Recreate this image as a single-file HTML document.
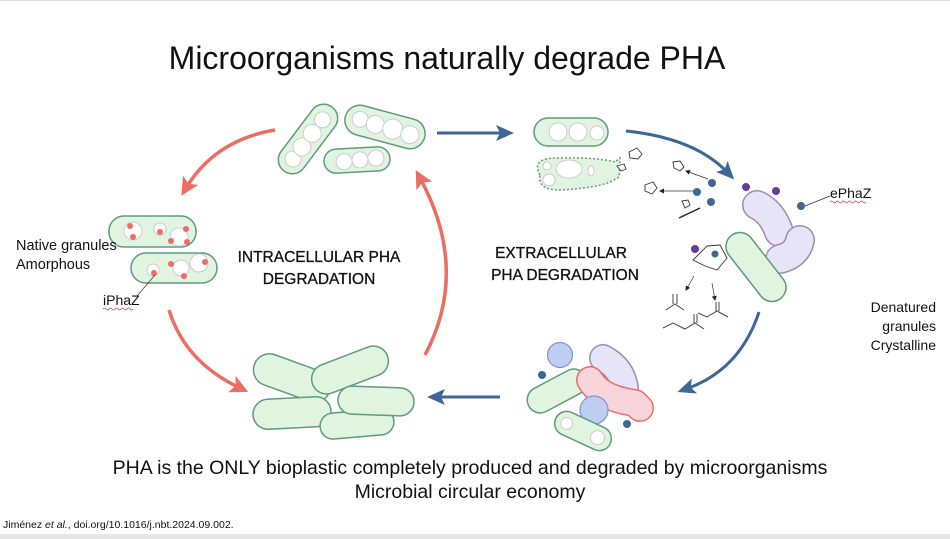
<!DOCTYPE html>
<html><head><meta charset="utf-8"><style>
html,body{margin:0;padding:0;background:#fff}
svg{display:block}
text{font-family:"Liberation Sans",sans-serif;fill:#111}
</style></head><body>
<svg width="950" height="539" viewBox="0 0 950 539" xmlns="http://www.w3.org/2000/svg">
<defs>
<marker id="ar" markerWidth="18" markerHeight="18" refX="9" refY="9" orient="auto" markerUnits="userSpaceOnUse" viewBox="0 0 18 18"><path d="M0,0 L18,9 L0,18 L4,9 Z" fill="#ec6d64"/></marker>
<marker id="ab" markerWidth="18" markerHeight="18" refX="9" refY="9" orient="auto" markerUnits="userSpaceOnUse" viewBox="0 0 18 18"><path d="M0,1 L18,9 L0,17 L4,9 Z" fill="#3e6696"/></marker>
<marker id="sm" markerWidth="5" markerHeight="5" refX="4" refY="2.5" orient="auto" markerUnits="userSpaceOnUse"><path d="M0,0 L5,2.5 L0,5 Z" fill="#222"/></marker>
</defs>
<rect x="0" y="0" width="950" height="1" fill="#ddd"/>
<rect x="0" y="534" width="950" height="5" fill="#e6e6e6"/>

<text x="447" y="69" font-size="32" text-anchor="middle">Microorganisms naturally degrade PHA</text>

<g fill="none" stroke-width="3.5">
<path d="M275,130 Q215,140 186,188" stroke="#ec6d64" marker-end="url(#ar)"/>
<path d="M169,310 Q185,362 240,388" stroke="#ec6d64" marker-end="url(#ar)"/>
<path d="M425,355 Q470,270 420,178" stroke="#ec6d64" marker-end="url(#ar)"/>
<path d="M437,133 L505,133" stroke="#3e6696" stroke-width="3" marker-end="url(#ab)"/>
<path d="M626,131 Q695,138 728,173" stroke="#3e6696" stroke-width="3" marker-end="url(#ab)"/>
<path d="M759,312 Q740,370 686,389" stroke="#3e6696" stroke-width="3" marker-end="url(#ab)"/>
<path d="M500,397 L436,397" stroke="#3e6696" stroke-width="3" marker-end="url(#ab)"/>
</g>

<g stroke="#5f9b7c" stroke-width="1.5" fill="#e0f4df">
<g transform="translate(308,139) rotate(-53)"><rect x="-40" y="-14" width="80" height="28" rx="14"/>
<g fill="#fff" stroke="#ccc" stroke-width="1"><circle cx="-25" cy="0" r="8"/><circle cx="-10" cy="0" r="9"/><circle cx="7" cy="0" r="9"/><circle cx="24" cy="0" r="8"/></g></g>
<g transform="translate(385,127) rotate(15)"><rect x="-41" y="-15" width="82" height="30" rx="15"/>
<g fill="#fff" stroke="#ccc" stroke-width="1"><circle cx="-26" cy="-1" r="8"/><circle cx="-10" cy="0" r="9"/><circle cx="8" cy="0" r="10"/><circle cx="26" cy="1" r="9"/></g></g>
<g transform="translate(357,160) rotate(-3)"><rect x="-33" y="-12" width="66" height="24" rx="12"/>
<g fill="#fff" stroke="#ccc" stroke-width="1"><circle cx="-13" cy="1" r="8"/><circle cx="3" cy="0" r="8"/><circle cx="19" cy="-1" r="8"/></g></g>

<rect x="109" y="216" width="87" height="31" rx="15"/>
<rect x="131" y="253" width="86" height="30" rx="15"/>
<g fill="#fff" stroke="#ccc" stroke-width="1">
<circle cx="133" cy="231" r="9"/><circle cx="160" cy="229" r="6"/><circle cx="179" cy="237" r="9"/>
<circle cx="153" cy="270" r="6"/><circle cx="181" cy="268" r="8"/><circle cx="199" cy="263" r="9"/></g>
<g fill="#ec6d64" stroke="none">
<circle cx="130" cy="226" r="3"/><circle cx="133" cy="237" r="3"/><circle cx="160" cy="232" r="3"/><circle cx="186" cy="229" r="3"/><circle cx="171" cy="241" r="3"/><circle cx="187" cy="242" r="3"/>
<circle cx="154" cy="273" r="3"/><circle cx="171" cy="264" r="3"/><circle cx="184" cy="276" r="3"/><circle cx="205" cy="262" r="3"/></g>
</g>
<line x1="155" y1="275" x2="137" y2="296" stroke="#444" stroke-width="0.8"/>
<text x="16" y="250" font-size="14.5">Native granules</text>
<text x="16" y="269" font-size="14.5">Amorphous</text>
<text x="103" y="305" font-size="14">iPhaZ</text>
<path d="M103,309 q1.5,-2 3,0 t3,0 t3,0 t3,0 t3,0 t3,0 t3,0 t3,0 t3,0 t3,0" stroke="#e33" stroke-width="0.7" fill="none"/>

<text x="319" y="262" font-size="15.5" text-anchor="middle" style="stroke:#111;stroke-width:0.3">INTRACELLULAR PHA</text>
<text x="319" y="284" font-size="15.5" text-anchor="middle" style="stroke:#111;stroke-width:0.3">DEGRADATION</text>
<text x="561" y="258" font-size="15.5" text-anchor="middle" style="stroke:#111;stroke-width:0.3">EXTRACELLULAR</text>
<text x="565" y="280" font-size="15.5" text-anchor="middle" style="stroke:#111;stroke-width:0.3">PHA DEGRADATION</text>

<g stroke="#5f9b7c" stroke-width="1.5" fill="#e0f4df">
<g transform="translate(292,378) rotate(20)"><rect x="-40" y="-16" width="80" height="32" rx="16"/></g>
<g transform="translate(350,370) rotate(-21)"><rect x="-40" y="-15" width="80" height="30" rx="15"/></g>
<g transform="translate(292,413) rotate(-3)"><rect x="-39" y="-15" width="78" height="30" rx="15"/></g>
<g transform="translate(357,424) rotate(-5)"><rect x="-37" y="-13" width="74" height="26" rx="13"/></g>
<g transform="translate(376,401) rotate(2)"><rect x="-38" y="-14" width="76" height="28" rx="14"/></g>
</g>

<g stroke="#5f9b7c" stroke-width="1.5" fill="#e0f4df">
<rect x="534" y="118" width="74" height="28" rx="14"/>
<g fill="#fff" stroke="#ccc" stroke-width="1"><circle cx="558" cy="132" r="9"/><circle cx="578" cy="132" r="9"/><circle cx="597" cy="133" r="7"/></g>
<path d="M540,175 Q530,157 560,158 Q595,157 615,162 L620,158 L619,177 L612,181 Q598,188 560,190 Q537,190 540,175 Z" stroke-dasharray="2,2"/>
<g fill="#fff" stroke="#ccc" stroke-width="1"><ellipse cx="569" cy="169" rx="13" ry="9"/><circle cx="549" cy="180" r="6"/><circle cx="547" cy="166" r="4"/><ellipse cx="591" cy="171" rx="3" ry="5"/></g>
</g>
<g fill="#fff" stroke="#333" stroke-width="0.9">
<polygon points="629,152 637,148 642,154 638,159 630,158"/>
<polygon points="617,166 624,164 626,169 621,171"/>
<polygon points="673,162 680,161 684,167 680,171 674,168"/>
<polygon points="645,185 653,182 657,188 652,194 645,191"/>
<polygon points="682,201 688,200 690,205 685,208"/>
</g>
<g stroke="#333" stroke-width="0.7"><line x1="708" y1="179" x2="686" y2="171" marker-end="url(#sm)"/><line x1="694" y1="191" x2="660" y2="191" marker-end="url(#sm)"/></g>
<line x1="679" y1="218" x2="700" y2="208" stroke="#222" stroke-width="1.5"/>
<g fill="#3e6696"><circle cx="712" cy="183" r="4"/><circle cx="697" cy="192" r="4"/><circle cx="711" cy="202" r="4"/><circle cx="801" cy="206" r="4"/><circle cx="715" cy="254" r="3.5"/><circle cx="733" cy="254" r="4"/>
<circle cx="542" cy="375" r="4"/><circle cx="605" cy="378" r="4"/><circle cx="627" cy="424" r="4"/></g>
<g fill="#6a3a9a"><circle cx="746" cy="187" r="4"/><circle cx="776" cy="191" r="4"/><circle cx="695" cy="249" r="4"/></g>
<line x1="805" y1="206" x2="830" y2="196" stroke="#333" stroke-width="0.8"/>
<text x="830" y="198" font-size="14">ePhaZ</text>
<path d="M830,202 q1.5,-2 3,0 t3,0 t3,0 t3,0 t3,0 t3,0 t3,0 t3,0 t3,0 t3,0 t3,0 t3,0" stroke="#e33" stroke-width="0.7" fill="none"/>

<g fill="none" stroke-linecap="round" stroke-linejoin="round">
<path d="M757,205 Q772,212 779,232" stroke="#a08ab8" stroke-width="30"/>
<path d="M757,205 Q772,212 779,232" stroke="#e5e5f7" stroke-width="27"/>
<path d="M800,240 Q797,255 780,259" stroke="#a08ab8" stroke-width="30"/>
<path d="M800,240 Q797,255 780,259" stroke="#e5e5f7" stroke-width="27"/>
</g>
<g stroke="#5f9b7c" stroke-width="1.5" fill="#e0f4df">
<g transform="translate(756,267) rotate(52)"><rect x="-40" y="-14" width="80" height="28" rx="14"/></g>
</g>
<polygon points="707,246 720,245 727,258 717,270 705,266 693,260" fill="none" stroke="#333" stroke-width="0.9"/>
<g stroke="#333" stroke-width="0.7"><line x1="694" y1="276" x2="686" y2="290" marker-end="url(#sm)"/><line x1="712" y1="283" x2="715" y2="300" marker-end="url(#sm)"/></g>
<g fill="none" stroke="#444" stroke-width="1">
<path d="M666,310 L675,304 L684,310 M673,304 V294 M677,304 V294"/>
<path d="M698,313 L707,317 L717,311 L728,317 M716,311 V302 M719,311 V302"/>
<path d="M663,328 L673,323 L685,329 L695,323 L704,329 M694,323 V314 M697,323 V314"/>
</g>
<text x="936" y="312" font-size="14" text-anchor="end">Denatured</text>
<text x="936" y="331" font-size="14" text-anchor="end">granules</text>
<text x="936" y="350" font-size="14" text-anchor="end">Crystalline</text>

<circle cx="560" cy="355" r="12.5" fill="#c0cdf3" stroke="#7f94d4" stroke-width="1.2"/>
<g fill="none" stroke-linecap="round">
<path d="M603,358 Q622,368 625,388" stroke="#a08ab8" stroke-width="28"/>
<path d="M603,358 Q622,368 625,388" stroke="#e5e5f7" stroke-width="25"/>
</g>
<g transform="translate(557,391) rotate(-28)" stroke="#5f9b7c" stroke-width="1.5" fill="#e0f4df"><rect x="-32" y="-13" width="64" height="26" rx="13"/></g>
<g fill="none" stroke-linecap="round" stroke-linejoin="round">
<path d="M590,380 Q600,398 635,403 L640,408" stroke="#ec6d64" stroke-width="28"/>
<path d="M590,380 Q600,398 635,403 L640,408" stroke="#f8d5da" stroke-width="25"/>
</g>
<circle cx="594" cy="410" r="14" fill="#c0cdf3" stroke="#7f94d4" stroke-width="1.2"/>
<g transform="translate(583,431) rotate(25)" stroke="#5f9b7c" stroke-width="1.5" fill="#e0f4df"><rect x="-30" y="-12" width="60" height="24" rx="12"/>
<g fill="#fff" stroke="#ccc" stroke-width="1"><circle cx="-18" cy="0" r="6"/><circle cx="16" cy="0" r="7"/></g></g>

<text x="470" y="474" font-size="19.5" text-anchor="middle">PHA is the ONLY bioplastic completely produced and degraded by microorganisms</text>
<text x="470" y="498" font-size="19.5" text-anchor="middle">Microbial circular economy</text>
<text x="3" y="528" font-size="10.5">Jiménez <tspan font-style="italic">et al.</tspan>, doi.org/10.1016/j.nbt.2024.09.002.</text>
</svg>
</body></html>
